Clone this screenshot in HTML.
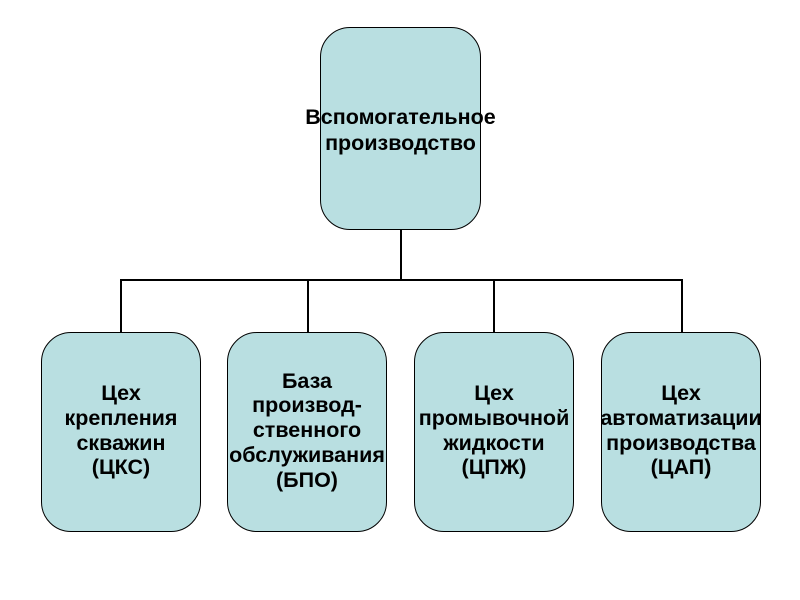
<!DOCTYPE html>
<html><head><meta charset="utf-8"><style>
body{margin:0;width:800px;height:600px;background:#fff;position:relative;overflow:hidden;font-family:"Liberation Sans",sans-serif;}
.b{position:absolute;background:#b9dfe1;border:1px solid #000;border-radius:30px;box-sizing:border-box;display:flex;align-items:center;justify-content:center;text-align:center;font-weight:bold;font-size:21.5px;line-height:24.8px;color:#000;white-space:nowrap;}
.l{position:absolute;background:#000;}
</style></head><body>
<div class="b" style="left:320px;top:27px;width:161px;height:203px;font-size:21.5px;line-height:26px;padding-top:2px;">Вспомогательное<br>производство</div>
<div class="l" style="left:400px;top:230px;width:2px;height:51px"></div>
<div class="l" style="left:120px;top:279px;width:563px;height:2px"></div>
<div class="l" style="left:120px;top:279px;width:2px;height:53px"></div>
<div class="l" style="left:307px;top:279px;width:2px;height:53px"></div>
<div class="l" style="left:493px;top:279px;width:2px;height:53px"></div>
<div class="l" style="left:681px;top:279px;width:2px;height:53px"></div>
<div class="b" style="left:41px;top:332px;width:160px;height:200px;padding-bottom:3px">Цех<br>крепления<br>скважин<br>(ЦКС)</div>
<div class="b" style="left:227px;top:332px;width:160px;height:200px;padding-bottom:3px">База<br>производ-<br>ственного<br>обслуживания<br>(БПО)</div>
<div class="b" style="left:414px;top:332px;width:160px;height:200px;padding-bottom:3px">Цех<br>промывочной<br>жидкости<br>(ЦПЖ)</div>
<div class="b" style="left:601px;top:332px;width:160px;height:200px;padding-bottom:3px">Цех<br>автоматизации<br>производства<br>(ЦАП)</div>
</body></html>
